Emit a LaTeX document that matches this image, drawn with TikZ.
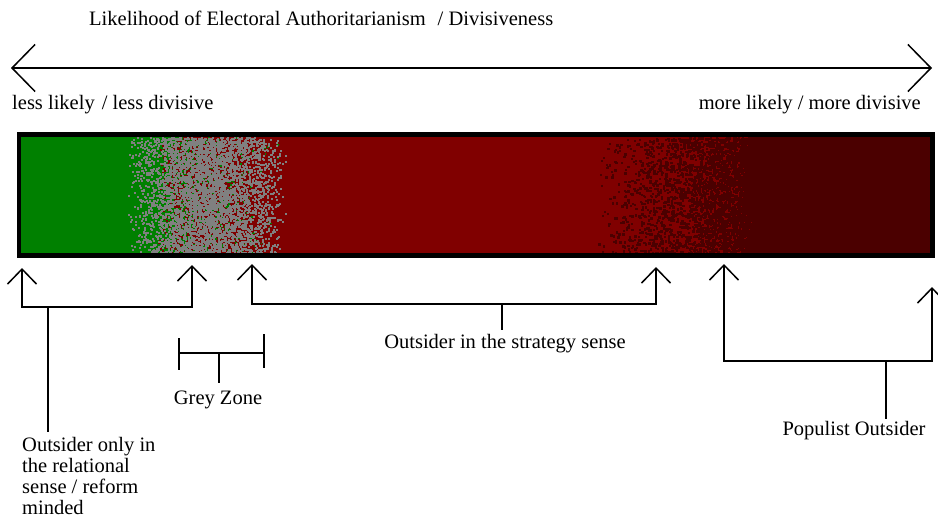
\documentclass[tikz,border=0pt]{standalone}
\usepackage{fontspec}
\setmainfont{Liberation Serif}
\newfontfamily\timesfont{Liberation Serif}
\usetikzlibrary{arrows.meta}
\definecolor{bargreen}{HTML}{008000}
\definecolor{barred}{HTML}{800000}
\definecolor{bardark}{HTML}{4B0000}
\definecolor{speckgrey}{HTML}{808080}
\tikzset{
  txt/.style={inner sep=0pt, font=\timesfont\fontsize{20.5}{21}\selectfont},
  conn/.style={line width=1.5pt},
  barbs/.style={{Straight Barb[length=15pt,width=29pt,line width=1.5pt]}-{Straight Barb[length=15pt,width=29pt,line width=1.5pt]}},
  bigbarbs/.style={{Straight Barb[length=23pt,width=47pt,line width=1.5pt]}-{Straight Barb[length=23pt,width=47pt,line width=1.5pt]}}
}
\newcommand{\speckles}[5]{% color, count, xformula, w, h
  \foreach \i in {1,...,#2} {%
    \pgfmathsetmacro{\xx}{#3}%
    \pgfmathsetmacro{\yy}{137+116*rnd}%
    \fill[#1] (\xx,\yy) rectangle ++(#4,#5);%
  }%
}
\begin{document}
\begin{tikzpicture}[x=1pt,y=-1pt]
\useasboundingbox (0,0) rectangle (938,524);
\pgfmathsetseed{42}
% title and axis
\node[txt,anchor=west] (title) at (89,18) {Likelihood of Electoral Authoritarianism\hspace{12pt}/ Divisiveness};
\coordinate (axL) at (11,68);
\coordinate (axR) at (932,68);
\draw[conn,bigbarbs] (axL) -- (axR);
\node[txt,anchor=west] (less) at (12,105) {less likely\hspace{7pt}/ less divisive};
\node[txt,anchor=east] (more) at (921,105) {more likely / more divisive};
% bar
\begin{scope}
\clip (21,137) rectangle (930,253);
\fill[bargreen] (21,137) rectangle (180,253);
\fill[barred] (180,137) rectangle (752,253);
\fill[bardark] (752,137) rectangle (930,253);
\speckles{bardark}{3600}{752-160*abs(rand*rand)}{2.4}{2.4}
\speckles{barred}{400}{180-25*abs(rand*rand)}{2}{2}
\speckles{bargreen}{700}{180+100*abs(rand*rand)}{1.8}{1.8}
\speckles{speckgrey}{4800}{207+40*(rand+rand)}{2}{2}
\end{scope}
\draw[line width=4.5pt] (19,134.5) rectangle (932.5,255.5);
% group 1
\coordinate (t1) at (22,268);
\coordinate (b1) at (22,307);
\coordinate (t2) at (192,265);
\coordinate (b2) at (192,307);
\coordinate (s1) at (48,307);
\coordinate (e1) at (48,432);
\draw[conn,barbs] (t1) -- (b1) -- (b2) -- (t2);
\draw[conn] (s1) -- (e1);
\node[txt,anchor=north west,align=left] (rel) at (22,437) {Outsider only in\\the relational\\sense / reform\\minded};
% grey zone
\coordinate (g1) at (179,338);
\coordinate (g2) at (179,370);
\coordinate (g3) at (264,334);
\coordinate (g4) at (264,368);
\coordinate (gl) at (179,353);
\coordinate (gr) at (264,353);
\coordinate (gs) at (219,353);
\coordinate (ge) at (219,383);
\draw[conn] (g1) -- (g2) (g3) -- (g4) (gl) -- (gr) (gs) -- (ge);
\node[txt] (grey) at (218,400) {Grey Zone};
% group 2
\coordinate (t3) at (252,264);
\coordinate (b3) at (252,304);
\coordinate (t4) at (656,267);
\coordinate (b4) at (656,304);
\coordinate (s2) at (502,304);
\coordinate (e2) at (502,330);
\draw[conn,barbs] (t3) -- (b3) -- (b4) -- (t4);
\draw[conn] (s2) -- (e2);
\node[txt] (strat) at (505,344) {Outsider in the strategy sense};
% group 3
\coordinate (t5) at (724,264);
\coordinate (b5) at (724,361);
\coordinate (t6) at (932,287);
\coordinate (b6) at (932,361);
\coordinate (s3) at (886,361);
\coordinate (e3) at (886,419);
\draw[conn,barbs] (t5) -- (b5) -- (b6) -- (t6);
\draw[conn] (s3) -- (e3);
\node[txt] (pop) at (854,431) {Populist Outsider};
\end{tikzpicture}
\end{document}
